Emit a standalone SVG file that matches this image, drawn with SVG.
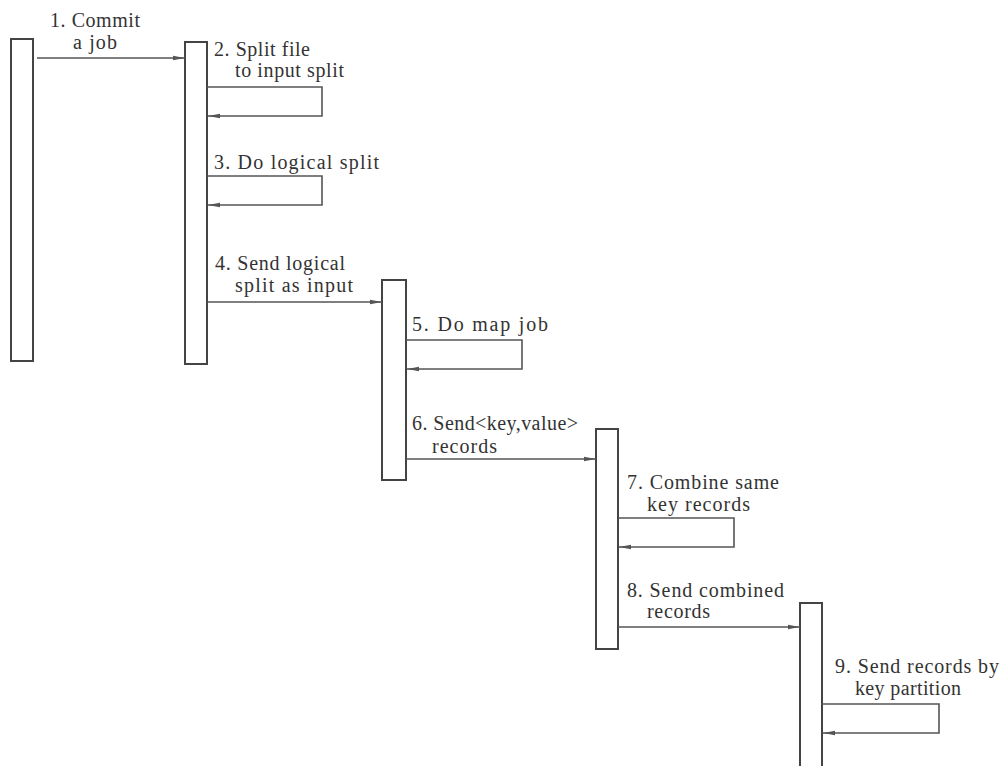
<svg xmlns="http://www.w3.org/2000/svg" width="1003" height="766" viewBox="0 0 1003 766">
<style>
.bar{fill:#fff;stroke:#444;stroke-width:2}
.ln{fill:none;stroke:#555;stroke-width:1.6}
.t{font-size:20px;fill:#333}
</style>
<defs>
<marker id="ah" viewBox="0 0 12 6" refX="12" refY="3" markerWidth="12" markerHeight="6" markerUnits="userSpaceOnUse" orient="auto">
<path d="M0,0.8 L12,3 L0,5.2 Z" fill="#555"/>
</marker>
</defs>
<rect width="1003" height="766" fill="#fff"/>
<g id="bar1"><rect class="bar" x="11" y="39" width="22" height="322"/></g>
<g id="bar2"><rect class="bar" x="185" y="42" width="22" height="322"/></g>
<g id="bar3"><rect class="bar" x="382" y="280" width="24" height="200"/></g>
<g id="bar4"><rect class="bar" x="596" y="429" width="22" height="220"/></g>
<g id="bar5"><rect class="bar" x="800" y="603" width="22" height="180"/></g>
<g id="connectors">
<line class="ln" x1="37" y1="58" x2="185" y2="58" marker-end="url(#ah)"/>
<path class="ln" d="M207,87 H322 V116 H208" marker-end="url(#ah)"/>
<path class="ln" d="M207,176 H322 V205 H208" marker-end="url(#ah)"/>
<line class="ln" x1="207" y1="302" x2="382" y2="302" marker-end="url(#ah)"/>
<path class="ln" d="M406,340 H522 V369 H407" marker-end="url(#ah)"/>
<line class="ln" x1="406" y1="459" x2="596" y2="459" marker-end="url(#ah)"/>
<path class="ln" d="M618,518 H734 V547 H619" marker-end="url(#ah)"/>
<line class="ln" x1="618" y1="627" x2="800" y2="627" marker-end="url(#ah)"/>
<path class="ln" d="M822,704 H939 V733 H823" marker-end="url(#ah)"/>
</g>
<g id="labels" class="t" font-family="Liberation Serif, Times New Roman, serif">
<text x="50" y="27" textLength="90">1. Commit</text>
<text x="73" y="49" textLength="44">a job</text>
<text x="214" y="56" textLength="96">2. Split file</text>
<text x="235" y="77" textLength="109">to input split</text>
<text x="214" y="169" textLength="165">3. Do logical split</text>
<text x="215" y="270" textLength="130">4. Send logical</text>
<text x="235" y="292" textLength="118">split as input</text>
<text x="412" y="331" textLength="136">5. Do map job</text>
<text x="412" y="430" textLength="166">6. Send&lt;key,value&gt;</text>
<text x="432" y="453" textLength="65">records</text>
<text x="627" y="489" textLength="152">7. Combine same</text>
<text x="647" y="511" textLength="103">key records</text>
<text x="627" y="597" textLength="157">8. Send combined</text>
<text x="647" y="618" textLength="63">records</text>
<text x="835" y="673" textLength="164">9. Send records by</text>
<text x="855" y="695" textLength="106">key partition</text>
</g>
</svg>
